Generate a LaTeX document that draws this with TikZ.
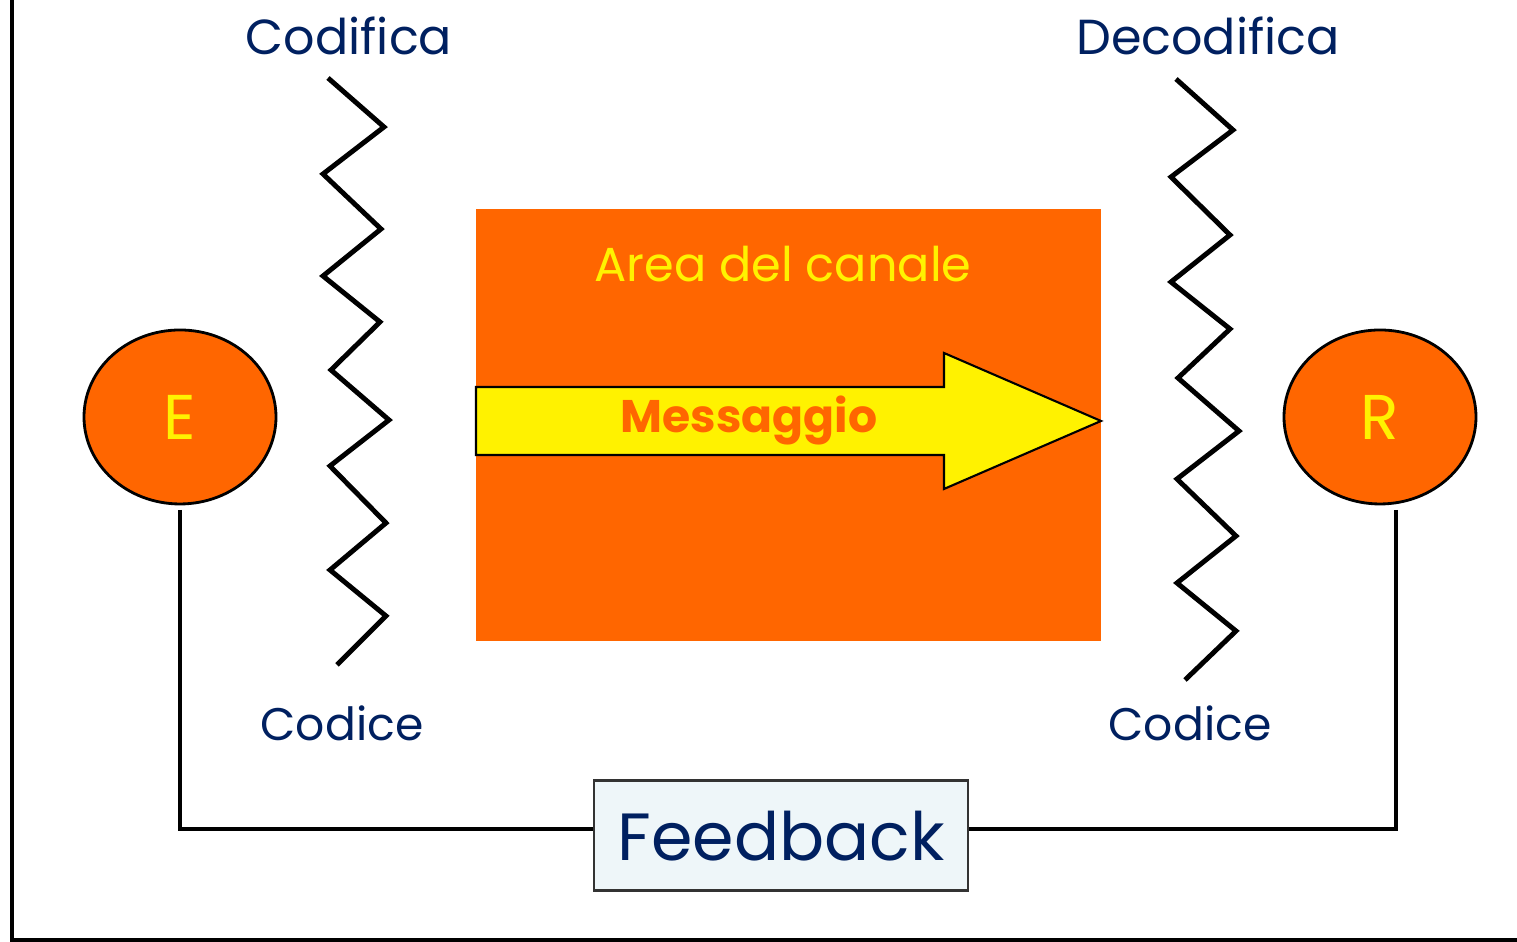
\documentclass[tikz,border=0pt]{standalone}
\usepackage{fontspec}
\setmainfont{Poppins}
\usepackage{tikz}
\usetikzlibrary{positioning, shapes.geometric}
\usepackage{xcolor}

\definecolor{canale}{HTML}{FF6600}
\definecolor{navy}{HTML}{002060}
\definecolor{fbfill}{HTML}{EEF6F9}

\tikzset{
  lbl/.style={text=navy, font=\fontsize{13.5}{16}\selectfont},
  attore/.style={ellipse, draw=black, line width=.8pt, fill=canale, text=yellow,
    minimum width=1.92cm, minimum height=1.74cm, inner sep=0pt,
    font=\fontsize{18}{20}\selectfont},
  zigzag/.style={line width=1.4pt, line join=miter},
}

\begin{document}
\begin{tikzpicture}
  \useasboundingbox (0, 0) rectangle (15.17, 9.42);

  % frame
  \draw[line width=1.4pt] (0.12, 9.42) -- (0.12, 0.02) -- (15.17, 0.02);

  % channel
  \fill[canale] (4.76, 3.01) rectangle (11.01, 7.33);
  \draw[fill=yellow, line width=.6pt] (4.76, 5.55) -- (9.44, 5.55) -- (9.44, 5.89) -- (11.01, 5.21)
    -- (9.44, 4.53) -- (9.44, 4.87) -- (4.76, 4.87) -- cycle;
  \node[text=yellow, font=\fontsize{13.6}{16}\selectfont] (area) at (7.83, 6.78) {Area del canale};
  \node[text=canale, font=\fontsize{13}{16}\selectfont\bfseries] (msg) at (7.49, 5.21) {Messaggio};

  % coding barriers
  \draw[zigzag] (3.28, 8.64) -- (3.84, 8.15) -- (3.23, 7.68) -- (3.81, 7.13) -- (3.23, 6.66)
    -- (3.80, 6.20) -- (3.31, 5.72) -- (3.89, 5.22) -- (3.30, 4.76) -- (3.86, 4.19)
    -- (3.30, 3.72) -- (3.86, 3.26) -- (3.37, 2.77);
  \draw[zigzag] (11.76, 8.63) -- (12.33, 8.12) -- (11.71, 7.65) -- (12.30, 7.07) -- (11.71, 6.60)
    -- (12.30, 6.13) -- (11.78, 5.64) -- (12.39, 5.11) -- (11.77, 4.63) -- (12.36, 4.06)
    -- (11.77, 3.59) -- (12.36, 3.11) -- (11.85, 2.62);

  \node[lbl, font=\fontsize{14}{16}\selectfont] (cod) at (3.49, 9.06) {Codifica};
  \node[lbl, font=\fontsize{14}{16}\selectfont] (decod) at (12.08, 9.06) {Decodifica};
  \node[lbl, font=\fontsize{13}{16}\selectfont] (codiceE) at (3.42, 2.19) {Codice};
  \node[lbl, font=\fontsize{13}{16}\selectfont] (codiceR) at (11.90, 2.19) {Codice};

  % sender and receiver
  \node[attore] (E) at (1.80, 5.25) {E};
  \node[attore] (R) at (13.80, 5.25) {R};

  % feedback
  \node[draw=black!80, line width=.85pt, fill=fbfill, text=navy, inner sep=1pt,
    minimum width=3.74cm, minimum height=1.10cm, font=\fontsize{19}{22}\selectfont] (fb)
    at (7.81, 1.06) {Feedback};
  \coordinate (e0) at (1.80, 4.32);
  \coordinate (r0) at (13.96, 4.32);
  \draw[line width=1pt] (e0) |- ([yshift=.7mm]fb.west);
  \draw[line width=1pt] (r0) |- ([yshift=.7mm]fb.east);
\end{tikzpicture}
\end{document}
